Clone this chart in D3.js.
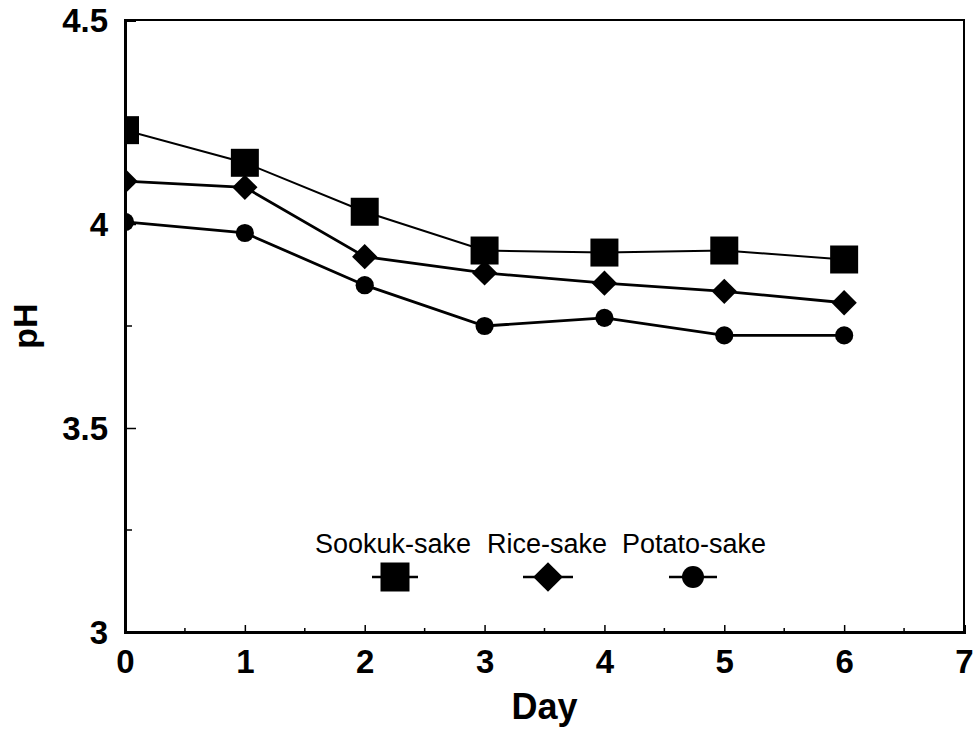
<!DOCTYPE html>
<html>
<head>
<meta charset="utf-8">
<script src="https://cdn.jsdelivr.net/npm/d3@7"></script>
<style>
  body { margin: 0; background: #fff; }
  svg { display: block; font-family: Arial, "Liberation Sans", sans-serif; }
</style>
</head>
<body>
<svg id="chart" width="978" height="732"></svg>
<script>
// values
var days = [0, 1, 2, 3, 4, 5, 6]
var sookuk = [4.23, 4.15, 4.03, 3.935, 3.93, 3.935, 3.913]
var rice = [4.105, 4.09, 3.92, 3.88, 3.855, 3.835, 3.807]
var potato = [4.005, 3.978, 3.85, 3.75, 3.77, 3.727, 3.727]
var seriesNames = ["Sookuk-sake", "Rice-sake", "Potato-sake"]
var xTicks = [0, 1, 2, 3, 4, 5, 6, 7]
var yTicks = [3, 3.5, 4, 4.5]

var svg = d3.select("#chart")
var plotLeft = 125, plotRight = 964, plotTop = 20, plotBottom = 632

var x = d3.scaleLinear().domain([0, 7]).range([plotLeft, plotRight])
var y = d3.scaleLinear().domain([3, 4.5]).range([plotBottom, plotTop])

svg.append("defs").append("clipPath").attr("id", "plotclip")
  .append("rect")
  .attr("x", plotLeft).attr("y", plotTop)
  .attr("width", plotRight - plotLeft).attr("height", plotBottom - plotTop)

// frame
svg.append("rect")
  .attr("x", plotLeft).attr("y", plotTop)
  .attr("width", plotRight - plotLeft).attr("height", plotBottom - plotTop)
  .attr("fill", "none").attr("stroke", "#000").attr("stroke-width", 2)

// x axis ticks (inward)
var xMinor = d3.range(0.5, 7, 1)
var xAxis = d3.axisBottom(x).tickValues(xTicks).tickSize(-7).tickFormat(d3.format("d"))
var gx = svg.append("g").attr("transform", "translate(0," + plotBottom + ")").call(xAxis)
gx.select(".domain").attr("stroke-width", 3)
gx.selectAll(".tick line").attr("stroke-width", 1.5)
gx.selectAll(".tick text")
  .attr("font-size", 33).attr("font-weight", "bold").attr("fill", "#000")
  .attr("dy", null).attr("y", 41)
gx.selectAll(".minor").data(xMinor).enter().append("line")
  .attr("x1", d => x(d)).attr("x2", d => x(d))
  .attr("y1", 0).attr("y2", -4)
  .attr("stroke", "#000").attr("stroke-width", 1.5)

// y axis ticks (inward)
var yMinor = d3.range(3.25, 4.5, 0.5)
var yAxis = d3.axisLeft(y).tickValues(yTicks).tickSize(-11).tickFormat(d => d)
var gy = svg.append("g").attr("transform", "translate(" + plotLeft + ",0)").call(yAxis)
gy.select(".domain").attr("stroke-width", 3)
gy.selectAll(".tick line").attr("stroke-width", 1.5)
gy.selectAll(".tick text")
  .attr("font-size", 33).attr("font-weight", "bold").attr("fill", "#000")
  .attr("x", -17).attr("dy", "0.36em")
gy.selectAll(".minor").data(yMinor).enter().append("line")
  .attr("y1", d => y(d)).attr("y2", d => y(d))
  .attr("x1", 0).attr("x2", 7)
  .attr("stroke", "#000").attr("stroke-width", 1.5)

// axis titles
svg.append("text")
  .attr("x", x(3.5)).attr("y", 719)
  .attr("text-anchor", "middle")
  .attr("font-size", 36).attr("font-weight", "bold")
  .text("Day")

svg.append("text")
  .attr("transform", "translate(37,326) rotate(-90)")
  .attr("text-anchor", "middle")
  .attr("font-size", 34).attr("font-weight", "bold")
  .text("pH")

// series
var series = [
  { name: seriesNames[0], values: sookuk, symbol: d3.symbolSquare, size: 784, rot: 0, width: 2, legend: 841 },
  { name: seriesNames[1], values: rice, symbol: d3.symbolSquare, size: 320, rot: 45, width: 2.8, legend: 440 },
  { name: seriesNames[2], values: potato, symbol: d3.symbolCircle, size: 260, rot: 0, width: 2.8, legend: 380 }
]

var line = d3.line()
  .x((d, i) => x(days[i]))
  .y(d => y(d))

var plot = svg.append("g").attr("clip-path", "url(#plotclip)")

series.forEach(function (s) {
  plot.append("path")
    .datum(s.values)
    .attr("d", line)
    .attr("fill", "none")
    .attr("stroke", "#000")
    .attr("stroke-width", s.width)

  plot.selectAll(null)
    .data(s.values)
    .enter()
    .append("path")
    .attr("d", d3.symbol().type(s.symbol).size(s.size))
    .attr("transform", (d, i) => "translate(" + x(days[i]) + "," + y(d) + ") rotate(" + s.rot + ")")
    .attr("fill", "#000")
})

// legend
var legendText = [315, 487, 622]
var legendSym = [395, 548, 693]
var legendHalf = [23, 25, 24]

var legend = svg.append("g")
legend.selectAll("text")
  .data(series)
  .enter()
  .append("text")
  .attr("x", (d, i) => legendText[i])
  .attr("y", 553)
  .attr("font-size", 27)
  .text(d => d.name)

series.forEach(function (s, i) {
  legend.append("line")
    .attr("x1", legendSym[i] - legendHalf[i]).attr("x2", legendSym[i] + legendHalf[i])
    .attr("y1", 577).attr("y2", 577)
    .attr("stroke", "#000").attr("stroke-width", 2.5)
  legend.append("path")
    .attr("d", d3.symbol().type(s.symbol).size(s.legend))
    .attr("transform", "translate(" + legendSym[i] + ",577) rotate(" + s.rot + ")")
    .attr("fill", "#000")
})
</script>
</body>
</html>
